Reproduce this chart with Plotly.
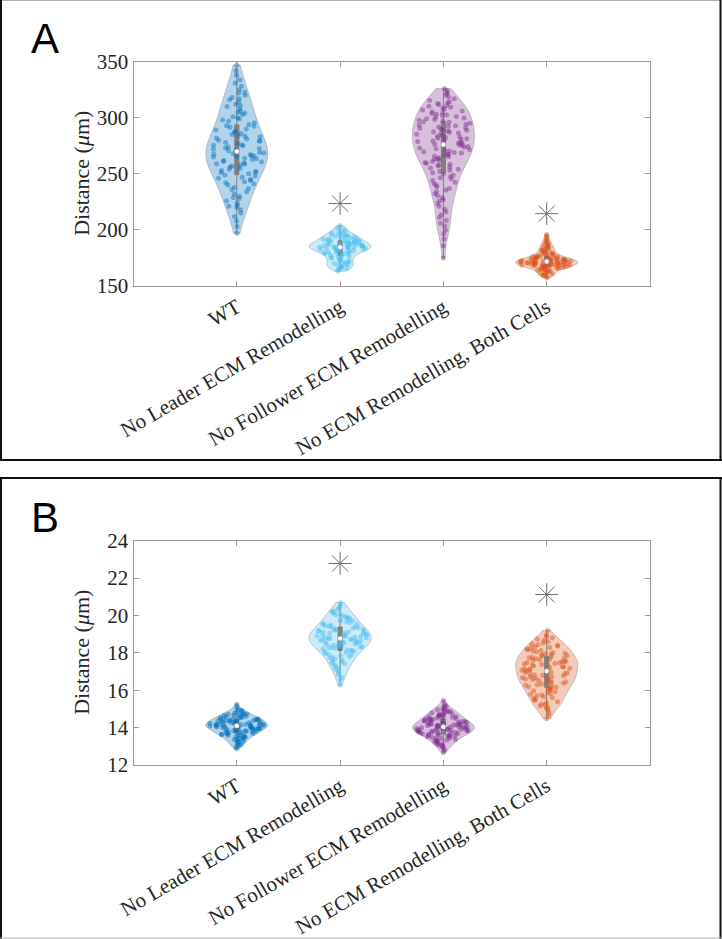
import plotly.graph_objects as go
import numpy as np

categories = ["WT", "No Leader ECM Remodelling", "No Follower ECM Remodelling",
              "No ECM Remodelling, Both Cells"]

# ---- Panel A: distance (um) ----
a_wt = [197, 203, 208, 212, 215, 218, 220, 222, 224, 226,
        228, 230, 232, 234, 236, 238, 240, 241, 243, 244,
        245, 246, 247, 248, 249, 250, 251, 252, 253, 254,
        255, 256, 257, 258, 259, 260, 260.5, 261, 262, 263,
        263.5, 264, 265, 265.5, 266, 267, 267.5, 268, 268.5, 269,
        270, 270.5, 271, 272, 272.5, 273, 274, 275, 276, 277,
        278, 279, 279.5, 280, 281, 282, 283, 284, 285, 286,
        287, 288, 289, 290, 291.5, 293, 294, 295.5, 297, 298,
        300, 301, 303, 304, 306, 308, 310, 312, 314, 316,
        318, 320, 322, 325, 328, 331, 334, 338, 342, 347,
        221, 229, 237, 242, 251.5, 258.5, 266.5, 275.5, 283.5, 292.5,
        299, 305, 311, 317, 323]
a_noleader = [163.2, 164.3,
              165, 165.5, 166, 166.5, 167, 167.5, 168, 168.5, 169, 169.5, 170, 170.5,
              171.1, 171.6, 172.2, 172.7, 173.3, 173.8, 174.4, 174.9, 175.5, 176.0, 176.6, 177.1, 177.7,
              178.1, 178.4, 178.8, 179.1, 179.5, 179.8, 180.2, 180.5, 180.9, 181.2, 181.6, 181.9,
              182.1, 182.3, 182.5, 182.7, 183.0, 183.2, 183.4, 183.6, 183.8, 184.0, 184.2, 184.4,
              184.6, 184.8, 185.0, 185.2, 185.4, 185.6, 185.8, 186.0, 186.2, 186.4, 186.6, 186.8,
              187.0, 187.2, 187.4, 187.6, 187.8,
              188.1, 188.4, 188.7, 189.0, 189.2, 189.5, 189.8, 190.0, 190.3, 190.6, 190.9, 191.1, 191.4, 191.7,
              192.0, 192.4, 192.8, 193.2, 193.6, 194.0, 194.4, 194.8, 195.2, 195.6, 196.0, 196.5, 197.0, 197.5,
              198.3, 199.2, 200.2, 201.3, 202.6, 204]
a_nofollower = [175, 186, 192, 196.5, 200, 203.5, 206, 208.5, 211, 213.5,
                216, 218.5, 221, 223.5, 225.5, 227, 228.8, 230.5, 232.2, 234,
                235.5, 237, 238.4, 239.8, 241.2, 242.6, 244,
                245.4, 246.5, 247.6, 248.7, 249.8, 250.9, 252, 253.1, 254.2,
                255.3, 256.1, 256.9, 257.8, 258.6, 259.4, 260.2, 261, 261.9, 262.7, 263.5, 264.3,
                265.2, 265.8, 266.5, 267.2, 267.8, 268.5, 269.1, 269.8, 270.4, 271.1, 271.8, 272.4,
                273.1, 273.7, 274.4,
                275.2, 275.8, 276.4, 277, 277.6, 278.2, 278.8, 279.4, 280, 280.6, 281.2, 281.8,
                282.4, 283, 283.6, 284.3,
                285.2, 285.8, 286.4, 287, 287.6, 288.2, 288.8, 289.4, 290, 290.6, 291.2, 291.8,
                292.4, 293, 293.6, 294.3,
                295.2, 295.9, 296.5, 297.2, 297.8, 298.5, 299.2, 299.8, 300.5, 301.1, 301.8, 302.5,
                303.1, 303.8, 304.5,
                305.3, 306.1, 306.9, 307.8, 308.6, 309.4, 310.2, 311, 311.9, 312.7, 313.5, 314.3,
                315.5, 317, 318.5, 320, 321.5, 323, 324.5, 326]
a_both = [157.2, 158.3, 159.2, 159.7, 160.2, 160.7, 161.2, 161.7, 162.2, 162.7,
          163.2, 163.6, 164, 164.4, 164.8,
          165.1, 165.4, 165.6, 165.9, 166.1, 166.4, 166.6, 166.9,
          167.1, 167.2, 167.4, 167.6, 167.7, 167.9, 168.1, 168.3, 168.4, 168.6, 168.8, 168.9,
          169.05, 169.2, 169.35, 169.5, 169.6, 169.75, 169.9, 170.05, 170.2, 170.35, 170.5, 170.6,
          170.75, 170.9,
          171.05, 171.2, 171.35, 171.5, 171.6, 171.75, 171.9, 172.05, 172.2, 172.35, 172.5, 172.6,
          172.75, 172.9,
          173.1, 173.2, 173.4, 173.6, 173.7, 173.9, 174.1, 174.3, 174.4, 174.6, 174.8, 174.9,
          175.1, 175.4, 175.6, 175.9, 176.1, 176.4, 176.6, 176.9,
          177.2, 177.6, 178, 178.4, 178.8, 179.2, 179.7, 180.2, 180.7,
          181.2, 181.7, 182.2, 182.7, 183.3, 184, 184.7, 185.3, 186, 186.7,
          187.5, 188.5, 189.5, 190.5, 192, 194, 196]

# ---- Panel B: distance (um) ----
b_wt = [12.87, 12.96, 13.03, 13.08, 13.13, 13.18, 13.23,
        13.27, 13.3, 13.33, 13.36, 13.39, 13.42, 13.45, 13.48,
        13.51, 13.53, 13.55, 13.57, 13.59, 13.61, 13.63, 13.65, 13.67, 13.69, 13.71, 13.73, 13.74,
        13.76, 13.77, 13.78, 13.80, 13.81, 13.83, 13.84, 13.85, 13.87, 13.88, 13.90, 13.91,
        13.92, 13.94, 13.95, 13.97, 13.98, 13.99,
        14.01, 14.02, 14.03, 14.04, 14.05, 14.06, 14.07, 14.08, 14.09, 14.1, 14.11, 14.12,
        14.13, 14.14, 14.15, 14.16, 14.17, 14.18, 14.19, 14.2, 14.21, 14.22, 14.24,
        14.26, 14.27, 14.28, 14.3, 14.31, 14.32, 14.33, 14.35, 14.36, 14.37, 14.38, 14.4,
        14.41, 14.42, 14.43, 14.44, 14.45, 14.46, 14.48, 14.49,
        14.51, 14.53, 14.55, 14.57, 14.59, 14.61, 14.63, 14.65, 14.67, 14.69, 14.71, 14.73, 14.74,
        14.77, 14.81, 14.85, 14.89, 14.93, 14.97, 15.08, 15.25]
b_noleader = [16.27, 16.55, 16.68, 16.82, 16.94, 17.04, 17.12, 17.2,
              17.28, 17.34, 17.4, 17.46, 17.52, 17.57, 17.62, 17.67, 17.72,
              17.77, 17.81, 17.85, 17.89, 17.93, 17.97,
              18.02, 18.05, 18.08, 18.11, 18.14, 18.17, 18.2, 18.23,
              18.26, 18.28, 18.31, 18.33, 18.36, 18.38, 18.41, 18.43, 18.46, 18.48,
              18.51, 18.53, 18.55, 18.57, 18.59, 18.61, 18.63, 18.65, 18.67, 18.69, 18.71, 18.73,
              18.76, 18.78, 18.8, 18.82, 18.84, 18.86, 18.88, 18.9, 18.92, 18.94, 18.96, 18.98,
              19.01, 19.03, 19.05, 19.08, 19.1, 19.12, 19.14, 19.17, 19.19, 19.21, 19.23,
              19.26, 19.29, 19.31, 19.34, 19.37, 19.4, 19.42, 19.45, 19.48,
              19.52, 19.55, 19.59, 19.62, 19.66, 19.69, 19.73,
              19.77, 19.81, 19.85, 19.89, 19.93, 19.97,
              20.02, 20.07, 20.12, 20.17, 20.22, 20.3, 20.38, 20.46, 20.58, 20.7]
b_nofollower = [12.67, 12.8, 12.88, 12.96, 13.02, 13.06, 13.1, 13.14, 13.18, 13.22,
                13.26, 13.29, 13.32, 13.34, 13.37, 13.4, 13.42, 13.45, 13.48,
                13.51, 13.53, 13.54, 13.56, 13.58, 13.6, 13.61, 13.63, 13.65, 13.67, 13.68,
                13.7, 13.72, 13.74,
                13.76, 13.77, 13.78, 13.8, 13.81, 13.82, 13.83, 13.85, 13.86, 13.87, 13.88,
                13.9, 13.91, 13.92, 13.93, 13.95, 13.96, 13.97, 13.99,
                14.01, 14.02, 14.03, 14.05, 14.06, 14.07, 14.08, 14.1, 14.11, 14.12, 14.13,
                14.15, 14.16, 14.17, 14.18, 14.2, 14.21, 14.22, 14.24,
                14.26, 14.27, 14.29, 14.31, 14.32, 14.34, 14.36, 14.37, 14.39, 14.41, 14.42,
                14.44, 14.46, 14.47, 14.49,
                14.51, 14.53, 14.56, 14.58, 14.6, 14.62, 14.65, 14.67, 14.69, 14.71, 14.73,
                14.77, 14.8, 14.83, 14.86, 14.89, 14.92, 14.95, 14.98,
                15.04, 15.1, 15.16, 15.22, 15.45]
b_both = [14.47, 14.65, 14.8, 14.93,
          15.03, 15.09, 15.15, 15.21, 15.27, 15.33, 15.39, 15.45,
          15.52, 15.56, 15.61, 15.65, 15.7, 15.74, 15.79, 15.83, 15.88, 15.92, 15.97,
          16.02, 16.05, 16.09, 16.12, 16.16, 16.19, 16.23, 16.27, 16.3, 16.34, 16.37, 16.41,
          16.44, 16.48,
          16.51, 16.54, 16.57, 16.6, 16.63, 16.66, 16.68, 16.71, 16.74, 16.77, 16.8, 16.83,
          16.86, 16.89, 16.92, 16.95, 16.98,
          17.01, 17.04, 17.07, 17.1, 17.12, 17.15, 17.18, 17.21, 17.24, 17.26, 17.29, 17.32,
          17.35, 17.38, 17.4, 17.43, 17.46, 17.49,
          17.51, 17.54, 17.57, 17.6, 17.63, 17.66, 17.68, 17.71, 17.74, 17.77, 17.8, 17.83,
          17.86, 17.89, 17.92, 17.95, 17.98,
          18.02, 18.06, 18.1, 18.13, 18.17, 18.21, 18.25, 18.29, 18.33, 18.37, 18.4, 18.44, 18.48,
          18.53, 18.6, 18.67, 18.74, 18.81, 18.88, 18.95, 19.2]

# significance markers (category, value)
sig_a_cats = ["No Leader ECM Remodelling", "No ECM Remodelling, Both Cells"]
sig_a_vals = [223.5, 214.5]
sig_b_cats = ["No Leader ECM Remodelling", "No ECM Remodelling, Both Cells"]
sig_b_vals = [22.78, 21.12]

colors = [(0, 114, 189), (77, 190, 238), (126, 47, 142), (217, 83, 25)]

panel_a = [a_wt, a_noleader, a_nofollower, a_both]
panel_b = [b_wt, b_noleader, b_nofollower, b_both]
bw_a = [12, 2.6, 6.5, 1.4]
bw_b = [0.14, 0.28, 0.15, 0.28]

SERIF = "Liberation Serif"
TXT = "#262626"
GRAY = "#808080"
HALF = 0.3           # half violin width (x units)
W, H = 722, 939
X_UNIT_PX = (650 - 133.5) / 5.0

fig = go.Figure()


def gauss_kde(samples, at, bw):
    s = np.asarray(samples, float)[:, None]
    a = np.asarray(at, float)[None, :]
    return np.exp(-0.5 * ((a - s) / bw) ** 2).sum(axis=0)


def spread_offsets(vals, bw, seed):
    """Beeswarm-like horizontal offsets that keep each point inside its violin."""
    v = np.asarray(vals, float)
    grid = np.linspace(v.min(), v.max(), 400)
    dmax = gauss_kde(v, grid, bw).max()
    hw = HALF * gauss_kde(v, v, bw) / dmax
    room = np.clip(hw - 3.0 / X_UNIT_PX, 0, None)
    k = np.arange(len(v)) + 1.0
    u = np.sin(k * 12.9898 + seed * 78.233) * 43758.5453
    u = 2.0 * (u - np.floor(u)) - 1.0
    return u * room


def add_panel(data, xa, ya, bws, seed0):
    for i, (vals, col, bw) in enumerate(zip(data, colors, bws)):
        r, g, b = col
        fig.add_trace(go.Violin(
            x=[i] * len(vals), y=vals, xaxis=xa, yaxis=ya,
            width=2 * HALF, scalemode="width", spanmode="hard", bandwidth=bw,
            fillcolor=f"rgba({r},{g},{b},0.3)",
            line=dict(color="rgba(128,128,128,0.5)", width=0.8),
            points=False, box=dict(visible=False), meanline=dict(visible=False),
            showlegend=False, hoverinfo="skip"))
        offs = spread_offsets(vals, bw, seed0 + i)
        fig.add_trace(go.Scatter(
            x=i + offs, y=vals, xaxis=xa, yaxis=ya, mode="markers",
            marker=dict(color=f"rgba({r},{g},{b},0.45)", size=5, line=dict(width=0)),
            showlegend=False, hoverinfo="skip"))
    # box + median drawn on top of the points
    for i, vals in enumerate(data):
        fig.add_trace(go.Box(
            x=[i] * len(vals), y=vals, xaxis=xa, yaxis=ya, width=0.04,
            fillcolor=GRAY, line=dict(color=GRAY, width=1), whiskerwidth=0,
            boxpoints=False, showlegend=False, hoverinfo="skip"))
        fig.add_trace(go.Scatter(
            x=[i], y=[float(np.median(vals))], xaxis=xa, yaxis=ya, mode="markers",
            marker=dict(color="white", size=5, line=dict(color=GRAY, width=0.5)),
            showlegend=False, hoverinfo="skip"))


add_panel(panel_a, "x", "y", bw_a, 1)
add_panel(panel_b, "x2", "y2", bw_b, 11)

for cats, vals, xa, ya in [(sig_a_cats, sig_a_vals, "x", "y"), (sig_b_cats, sig_b_vals, "x2", "y2")]:
    fig.add_trace(go.Scatter(x=[categories.index(c) for c in cats], y=vals, xaxis=xa, yaxis=ya,
                             mode="markers",
                             marker=dict(symbol="asterisk-open", size=19, color="#6e6e6e",
                                         line=dict(color="#6e6e6e", width=1)),
                             showlegend=False, hoverinfo="skip"))

xdom = [133.5 / W, 650 / W]

axis_common = dict(showline=True, linecolor="#9a9a9a", linewidth=1, mirror="ticks",
                   ticks="inside", ticklen=5, tickcolor="#9a9a9a", showgrid=False,
                   zeroline=False, automargin=False,
                   tickfont=dict(family=SERIF, size=21, color=TXT))

xaxis_common = dict(range=[-1, 4], tickmode="array", tickvals=list(range(len(categories))),
                    ticktext=categories, tickangle=-30, **axis_common)

fig.update_layout(
    width=W, height=H, margin=dict(l=0, r=0, t=0, b=0),
    paper_bgcolor="white", plot_bgcolor="white", violinmode="overlay", boxmode="overlay",
    xaxis=dict(domain=xdom, anchor="y", **xaxis_common),
    yaxis=dict(domain=[1 - 286 / H, 1 - 61.7 / H], anchor="x", range=[150, 350],
               dtick=50, **axis_common),
    xaxis2=dict(domain=xdom, anchor="y2", **xaxis_common),
    yaxis2=dict(domain=[1 - 765 / H, 1 - 540.7 / H], anchor="x2", range=[12, 24],
                dtick=2, **axis_common),
)


def px(x):
    return x / W


def py(y):
    return 1 - y / H


def hline(x0, x1, y, color, w):
    return dict(type="line", xref="paper", yref="paper", x0=px(x0), x1=px(x1),
                y0=py(y), y1=py(y), line=dict(color=color, width=w))


def vline(x, y0, y1, color, w):
    return dict(type="line", xref="paper", yref="paper", x0=px(x), x1=px(x),
                y0=py(y0), y1=py(y1), line=dict(color=color, width=w))


shapes = [
    hline(0, 721, 0.5, "#b0b0b0", 1), vline(1, 0, 461, "#111", 2),
    vline(720.5, 0, 461, "#111", 2), hline(0, 722, 460, "#111", 2),
    hline(0, 722, 478, "#111", 2), vline(1, 477, 939, "#111", 2),
    vline(720.5, 477, 939, "#111", 2), hline(0, 722, 938, "#b0b0b0", 1),
]
fig.update_layout(shapes=shapes)

for ycen in [(61.7 + 286) / 2, (540.7 + 765) / 2]:
    fig.add_annotation(text="Distance (<i>μ</i>m)", xref="paper", yref="paper",
                       x=px(82), y=py(ycen), textangle=-90, showarrow=False,
                       xanchor="center", yanchor="middle",
                       font=dict(family=SERIF, size=22, color=TXT))

fig.add_annotation(text="A", xref="paper", yref="paper", x=px(45), y=py(38), showarrow=False,
                   xanchor="center", yanchor="middle",
                   font=dict(family="Liberation Sans", size=42, color="black"))
fig.add_annotation(text="B", xref="paper", yref="paper", x=px(45), y=py(517), showarrow=False,
                   xanchor="center", yanchor="middle",
                   font=dict(family="Liberation Sans", size=42, color="black"))

fig.write_html("out.html", config={"displayModeBar": False},
               post_script="document.body.style.margin='0';document.body.style.overflow='hidden';")
